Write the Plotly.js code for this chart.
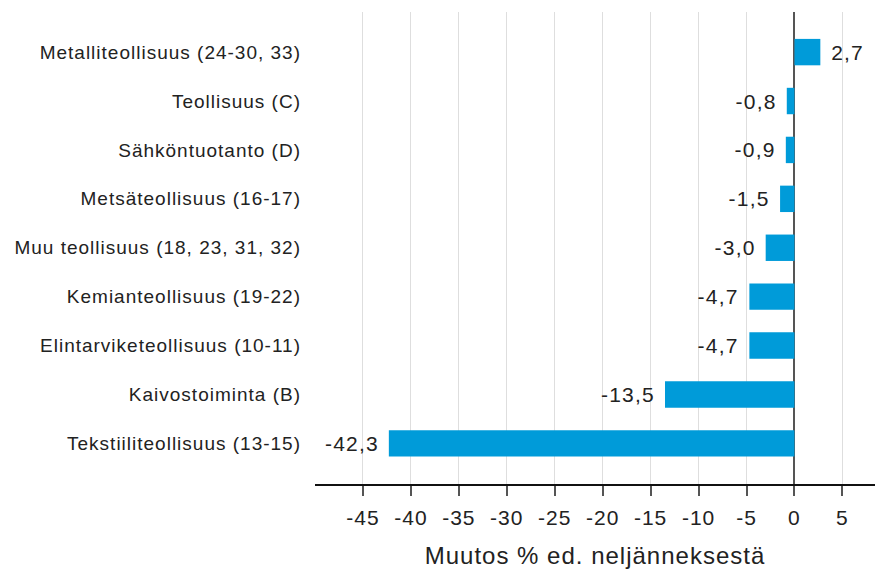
<!DOCTYPE html>
<html>
<head>
<meta charset="utf-8">
<script src="https://cdn.plot.ly/plotly-3.0.1.min.js"></script>
<style>
html,body{margin:0;padding:0;background:#fff;}
#chart{width:875px;height:575px;}
#chart svg text{letter-spacing:1px;}
#chart svg .annotation-text{letter-spacing:1.2px;}
</style>
</head>
<body>
<div id="chart"></div>
<script>
const categories = [
  "Metalliteollisuus (24-30, 33)",
  "Teollisuus (C)",
  "Sähköntuotanto (D)",
  "Metsäteollisuus (16-17)",
  "Muu teollisuus (18, 23, 31, 32)",
  "Kemianteollisuus (19-22)",
  "Elintarviketeollisuus (10-11)",
  "Kaivostoiminta (B)",
  "Tekstiiliteollisuus (13-15)"
];
const values = [2.7, -0.8, -0.9, -1.5, -3.0, -4.7, -4.7, -13.5, -42.3];
const tickValues = [-45, -40, -35, -30, -25, -20, -15, -10, -5, 0, 5];
const axisTitle = "Muutos % ed. neljänneksestä";

const fmt = v => v.toFixed(1).replace('.', ',');
const FONT = "Liberation Sans, Arial, sans-serif";

const trace = {
  type: 'bar',
  orientation: 'h',
  x: values,
  y: categories,
  marker: {color: '#009bd9'},
  width: 0.54,
  hoverinfo: 'skip'
};

const annotations = values.map((v, i) => ({
  x: v,
  y: categories[i],
  xref: 'x', yref: 'y',
  text: fmt(v),
  showarrow: false,
  xanchor: v >= 0 ? 'left' : 'right',
  xshift: v >= 0 ? 11 : -11,
  font: {family: FONT, size: 21, color: '#222'}
}));

const layout = {
  width: 875, height: 575,
  margin: {l: 315, r: 0, t: 12, b: 91},
  paper_bgcolor: '#fff', plot_bgcolor: '#fff',
  showlegend: false,
  xaxis: {
    range: [-50, 8.4],
    tickvals: tickValues,
    ticktext: tickValues.map(String),
    showgrid: true, gridcolor: '#dedede', gridwidth: 1,
    zeroline: true, zerolinecolor: '#555', zerolinewidth: 2,
    showline: true, linecolor: '#111', linewidth: 1.5,
    ticks: 'outside', ticklen: 10, tickcolor: '#555', tickwidth: 2,
    ticklabelstandoff: 4,
    tickfont: {family: FONT, size: 21, color: '#222'},
    title: {text: axisTitle, font: {family: FONT, size: 24, color: '#222'}, standoff: 19},
    fixedrange: true
  },
  yaxis: {
    type: 'category',
    categoryorder: 'array',
    categoryarray: categories,
    range: [8.83, -0.82],
    showgrid: false, zeroline: false, showline: false,
    ticks: '',
    ticklabelstandoff: 13,
    tickfont: {family: FONT, size: 19, color: '#222'},
    fixedrange: true
  },
  annotations: annotations
};

Plotly.newPlot('chart', [trace], layout, {displayModeBar: false, staticPlot: true});
</script>
</body>
</html>
